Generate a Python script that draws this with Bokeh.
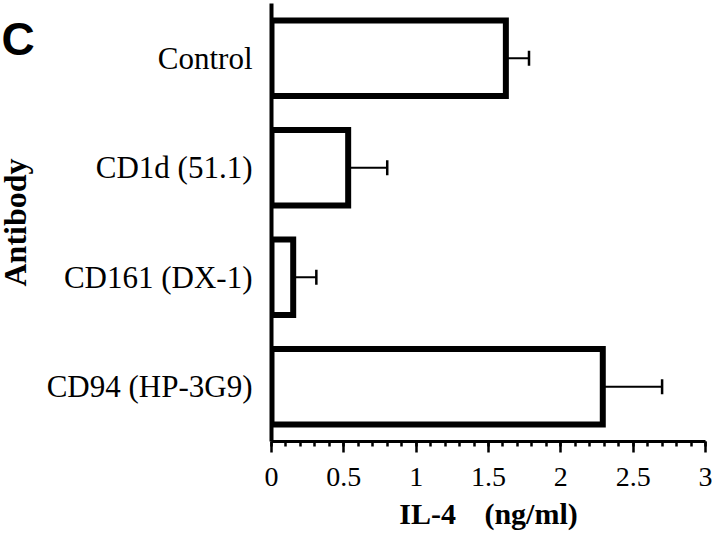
import math
from bokeh.plotting import figure
from bokeh.layouts import row
from bokeh.models import (ColumnDataSource, Range1d, FactorRange, SingleIntervalTicker,
                          Whisker, TeeHead)
from bokeh.core.properties import value
from bokeh.embed import file_html
from bokeh.resources import INLINE

antibodies = ["Control", "CD1d (51.1)", "CD161 (DX-1)", "CD94 (HP-3G9)"]
il4 = [1.62, 0.53, 0.15, 2.29]
il4_err = [0.16, 0.27, 0.16, 0.41]
x_ticks = [0, 0.5, 1, 1.5, 2, 2.5, 3]
x_tick_labels = ["0", "0.5", "1", "1.5", "2", "2.5", "3"]
panel_letter = "C"
x_title = "IL-4\u00a0\u00a0\u00a0\u2009(ng/ml)"
y_title = "Antibody"

upper = [v + e for v, e in zip(il4, il4_err)]
src = ColumnDataSource(dict(ab=antibodies, v=il4, up=upper))

H = 534
SIDE_W = 40
MAIN_W = 712 - SIDE_W
LEFT, RIGHT, TOP, BOTTOM = 271 - SIDE_W, 7, 3, 93
FRAME_TOP, FRAME_BOTTOM = TOP, H - BOTTOM

# side strip (its frame is aligned with the main frame by the row layout)
side = figure(width=SIDE_W, height=H, output_backend="svg", toolbar_location=None,
              x_range=Range1d(0, SIDE_W), y_range=Range1d(FRAME_BOTTOM, FRAME_TOP),
              x_axis_type=None, y_axis_type=None, title=None,
              min_border_left=0, min_border_right=0, min_border_top=TOP,
              min_border_bottom=BOTTOM)
side.outline_line_color = None
side.xgrid.visible = False
side.ygrid.visible = False
side.text(x=[1], y=[38.5], text=[panel_letter], text_font=value("Liberation Sans"),
          text_font_style="bold", text_font_size="46px", text_color="black",
          text_align="left", text_baseline="alphabetic")
side.text(x=[14], y=[(FRAME_TOP + FRAME_BOTTOM) / 2], text=[y_title], angle=math.pi / 2,
          text_font=value("Liberation Serif"), text_font_style="bold",
          text_font_size="32px", text_color="black",
          text_align="center", text_baseline="middle")

p = figure(width=MAIN_W, height=H, output_backend="svg", toolbar_location=None,
           y_range=FactorRange(factors=list(reversed(antibodies)), range_padding=0),
           x_range=Range1d(0, 3),
           min_border_left=LEFT, min_border_right=RIGHT,
           min_border_top=TOP, min_border_bottom=BOTTOM)
p.outline_line_color = None
p.xgrid.visible = False
p.ygrid.visible = False
p.background_fill_color = "white"

p.hbar(y="ab", left=0, right="v", height=0.69, source=src,
       fill_color="white", line_color="black", line_width=6, line_join="miter")

w = Whisker(source=src, base="ab", lower="v", upper="up", dimension="width",
            line_color="black", line_width=2,
            upper_head=TeeHead(size=15, line_color="black", line_width=2.5),
            lower_head=None)
p.add_layout(w)

xa = p.xaxis[0]
xa.ticker = SingleIntervalTicker(interval=0.5, num_minor_ticks=5)
xa.major_label_overrides = {t: l for t, l in zip(x_ticks, x_tick_labels)}
xa.axis_line_width = 3
xa.major_tick_line_width = 2.5
xa.minor_tick_line_width = 2.5
xa.major_tick_out = 11
xa.major_tick_in = 0
xa.minor_tick_out = 5
xa.minor_tick_in = 0
xa.major_label_text_font = "Liberation Serif"
xa.major_label_text_font_size = "28px"
xa.major_label_text_color = "black"
xa.major_label_standoff = 15
xa.axis_label = x_title
xa.axis_label_text_font = "Liberation Serif"
xa.axis_label_text_font_style = "bold"
xa.axis_label_text_font_size = "30px"
xa.axis_label_text_color = "black"
xa.axis_label_standoff = 8

ya = p.yaxis[0]
ya.axis_line_width = 4
ya.major_tick_line_color = None
ya.minor_tick_line_color = None
ya.major_tick_out = 0
ya.major_label_text_font = "Liberation Serif"
ya.major_label_text_font_size = "31px"
ya.major_label_text_color = "black"
ya.major_label_standoff = 19

layout = row(side, p, spacing=0)
open("out.html", "w").write(file_html(layout, INLINE))
